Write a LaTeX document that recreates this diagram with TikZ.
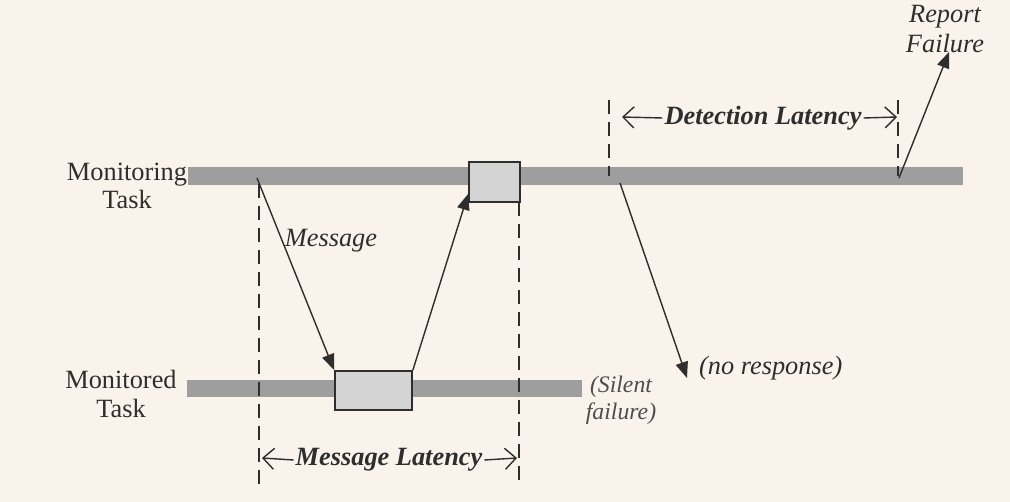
\documentclass[tikz,border=0pt]{standalone}
\usepackage{fontspec}
\setmainfont{Liberation Serif}
\usetikzlibrary{arrows.meta}
\definecolor{paper}{HTML}{FAF3EB}
\definecolor{ink}{HTML}{2E2E2E}
\definecolor{barfill}{HTML}{9E9E9E}
\definecolor{boxfill}{HTML}{D4D4D4}
\tikzset{
  bar/.style={fill=barfill},
  taskbox/.style={draw=ink,fill=boxfill,line width=1pt,inner sep=0pt},
  msg/.style={draw=ink,line width=0.8pt,-{Triangle[length=3.2mm,width=2.5mm]}},
  guide/.style={draw=ink,line width=1.1pt,dash pattern=on 8pt off 4.5pt},
  span/.style={draw=ink,line width=0.8pt,-{Straight Barb[length=2.2mm,width=4.2mm]}},
  label/.style={text=ink,font=\fontsize{15}{16}\selectfont,align=center,inner sep=1pt}
}
\begin{document}
\begin{tikzpicture}[x=0.02cm,y=-0.02cm]
\fill[paper] (0,0) rectangle (1010,502);
\useasboundingbox (0,0) rectangle (1010,502);
% task time lines
\fill[bar] (188,167) rectangle (963,185);
\fill[bar] (187,380) rectangle (582,397);
\node[label] (monitoring) at (127,186) {Monitoring\\Task};
\node[label] (monitored) at (121,394) {Monitored\\Task};
% processing boxes
\node[taskbox,minimum width=1.54cm,minimum height=0.78cm] (work) at (373.5,390.5) {};
\node[taskbox,minimum width=1.02cm,minimum height=0.8cm] (reply) at (494.5,182) {};
% guide lines
\draw[guide] (259,184) -- (259,485);
\draw[guide] (519,202) -- (519,485);
\draw[guide] (609,100) -- (609,176);
\draw[guide] (898,100) -- (898,176);
% messages
\coordinate (send) at (257,178);
\coordinate (probe) at (620,183);
\coordinate (lost) at (687,378);
\coordinate (detect) at (899,178);
\coordinate (report) at (949,52);
\draw[msg] (send) -- (work.north west);
\draw[msg] (work.north east) -- ([yshift=0.18cm]reply.south west);
\draw[msg] (probe) -- (lost);
\draw[msg] (detect) -- (report);
\node[label,font=\fontsize{15}{16}\selectfont\itshape] (msglabel) at (331,241) {Message};
\node[label,font=\fontsize{15}{16}\selectfont\itshape,anchor=west] (noresp) at (697,368) {(no response)};
\node[label,font=\fontsize{15}{17}\selectfont\itshape] (reportlabel) at (945,29) {Report\\Failure};
\node[label,font=\fontsize{13.5}{15.5}\selectfont\itshape,text=ink!85] (silent) at (621,400) {(Silent\\failure)};
% latencies
\node[label,font=\fontsize{15}{16}\selectfont\bfseries\itshape] (detlat) at (763,118) {Detection Latency};
\coordinate (detl) at (622,117);
\coordinate (detr) at (897,117);
\draw[span] (detlat.west) -- (detl);
\draw[span] (detlat.east) -- (detr);
\node[label,font=\fontsize{15}{16}\selectfont\bfseries\itshape] (msglat) at (389,460) {Message Latency};
\coordinate (msgl) at (262,458);
\coordinate (msgr) at (517,458);
\draw[span] (msglat.west) -- (msgl);
\draw[span] (msglat.east) -- (msgr);
\end{tikzpicture}
\end{document}
